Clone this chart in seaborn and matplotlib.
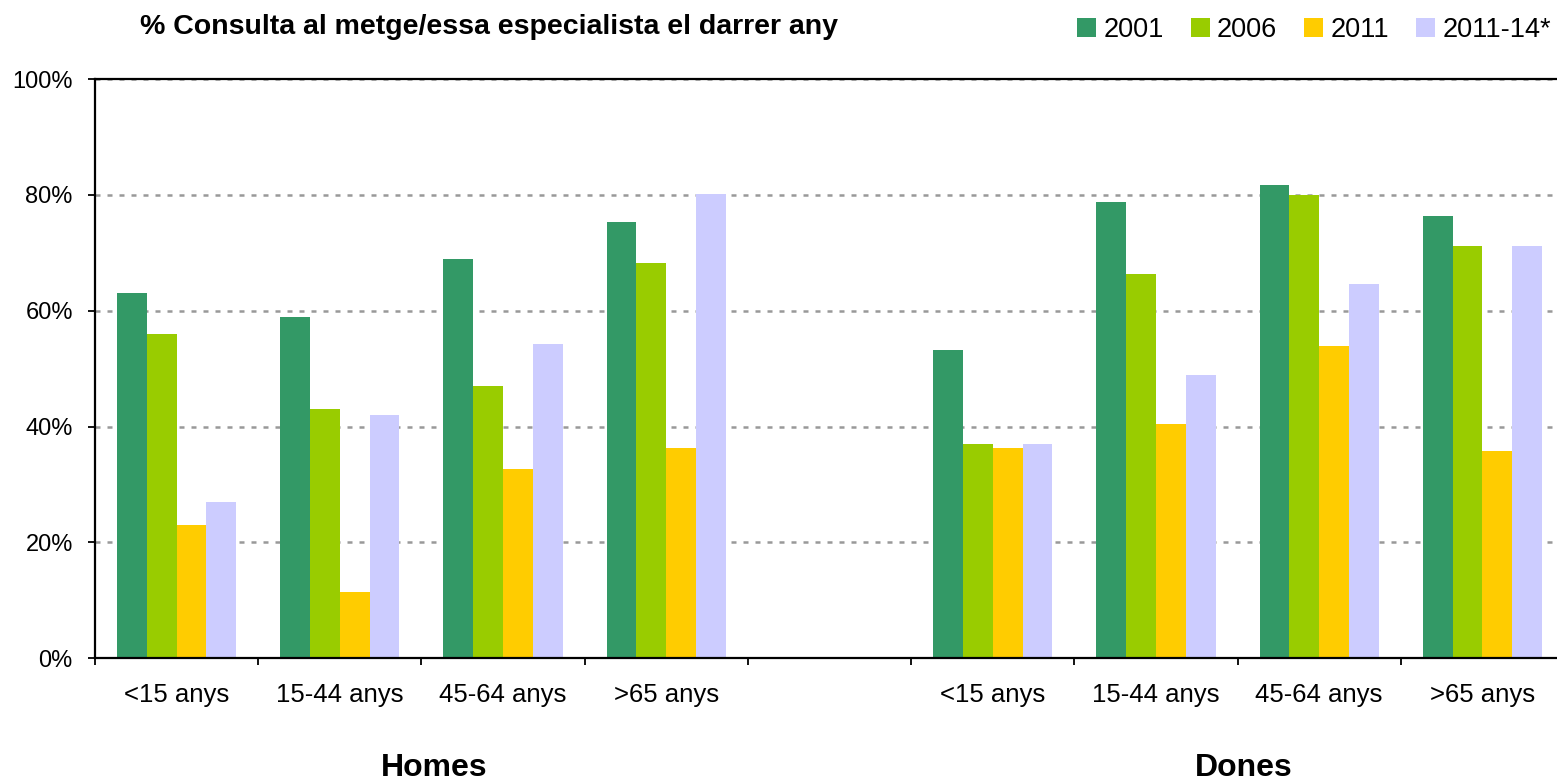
import matplotlib
matplotlib.use("Agg")
import matplotlib.pyplot as plt
import matplotlib.transforms as mtransforms
from matplotlib.patches import Patch
import seaborn as sns
import pandas as pd
import numpy as np

# ---- data ----
age_groups = ["<15 anys", "15-44 anys", "45-64 anys", ">65 anys"]
sexes = ["Homes", "Dones"]
years = ["2001", "2006", "2011", "2011-14*"]
homes_2001 = [63.0, 59.0, 69.0, 75.4]
homes_2006 = [56.0, 43.0, 47.0, 68.3]
homes_2011 = [23.0, 11.5, 32.7, 36.3]
homes_2011_14 = [27.0, 42.0, 54.3, 80.2]
dones_2001 = [53.2, 78.8, 81.7, 76.4]
dones_2006 = [37.0, 66.4, 80.0, 71.1]
dones_2011 = [36.3, 40.5, 53.9, 35.8]
dones_2011_14 = [37.0, 48.9, 64.6, 71.1]
y_ticks = [0, 20, 40, 60, 80, 100]
title = "% Consulta al metge/essa especialista el darrer any"
colors = ["#339966", "#99CC00", "#FFCC00", "#CCCCFF"]

series = {
    "Homes": [homes_2001, homes_2006, homes_2011, homes_2011_14],
    "Dones": [dones_2001, dones_2006, dones_2011, dones_2011_14],
}
rows = []
for sex in sexes:
    for yi, yr in enumerate(years):
        for ai, age in enumerate(age_groups):
            rows.append({"slot": f"{sex}|{age}", "year": yr, "value": series[sex][yi][ai]})
df = pd.DataFrame(rows)
order = [f"Homes|{a}" for a in age_groups] + ["gap"] + [f"Dones|{a}" for a in age_groups]

# ---- style ----
sns.set_theme(style="white")
plt.rcParams["font.family"] = ["Liberation Sans", "DejaVu Sans"]
plt.rcParams["text.color"] = "black"
plt.rcParams["xtick.color"] = "black"
plt.rcParams["ytick.color"] = "black"
plt.rcParams["axes.labelcolor"] = "black"

W, H = 1557, 783
fig = plt.figure(figsize=(W / 100, H / 100), dpi=100)
ax = fig.add_axes([95 / W, 1 - 658.3 / H, (1564 - 95) / W, (658.3 - 79) / H])

sns.barplot(data=df, x="slot", y="value", hue="year", order=order, hue_order=years,
            palette=colors, saturation=1, width=0.73, errorbar=None,
            edgecolor="none", linewidth=0, legend=False, ax=ax)

ax.set_xlim(-0.5, len(order) - 0.5)
ax.set_ylim(0, 100)
ax.set_xlabel("")
ax.set_ylabel("")

# y axis
ax.set_yticks(y_ticks)
ax.set_yticklabels([f"{v}%" for v in y_ticks], fontsize=17)
ax.tick_params(axis="y", which="major", left=True, length=5, width=1.3, color="black",
               labelcolor="black", direction="out", pad=11)

# x axis: labels centered, tick marks at boundaries
ax.set_xticks(range(len(order)))
ax.set_xticklabels(age_groups + [""] + age_groups, fontsize=18.5)
ax.tick_params(axis="x", which="major", length=0, pad=18, labelcolor="black")
ax.set_xticks(np.arange(-0.5, len(order), 1.0), minor=True)
ax.tick_params(axis="x", which="minor", bottom=True, length=5, width=1.3,
               color="black", direction="out")

# grid
ax.set_axisbelow(True)
ax.yaxis.grid(True, color="#999999", linewidth=1.8, linestyle=(0, (2.0, 2.8)))
ax.xaxis.grid(False)

for side in ["left", "bottom", "top"]:
    ax.spines[side].set_visible(True)
    ax.spines[side].set_color("black")
    ax.spines[side].set_linewidth(1.6)
ax.spines["right"].set_visible(False)

# group labels
trans = mtransforms.blended_transform_factory(ax.transData, fig.transFigure)
ax.text(1.58, 1 - 768 / H, sexes[0], transform=trans, ha="center", va="center",
        fontsize=23, fontweight="bold", color="black")
ax.text(6.54, 1 - 768 / H, sexes[1], transform=trans, ha="center", va="center",
        fontsize=23, fontweight="bold", color="black")

# title
fig.text(140 / W, 1 - 27 / H, title, fontsize=20.5, fontweight="bold",
         ha="left", va="center", color="black")

# legend
handles = [Patch(facecolor=c, edgecolor="none", label=y) for c, y in zip(colors, years)]
fig.legend(handles=handles, loc="center left", bbox_to_anchor=(1077 / W, 1 - 30 / H),
           ncol=4, frameon=False, fontsize=19.5, handlelength=0.7, handleheight=0.7,
           handletextpad=0.27, columnspacing=1.0, borderpad=0, borderaxespad=0,
           labelcolor="black")

fig.savefig("out.png", dpi=100)
